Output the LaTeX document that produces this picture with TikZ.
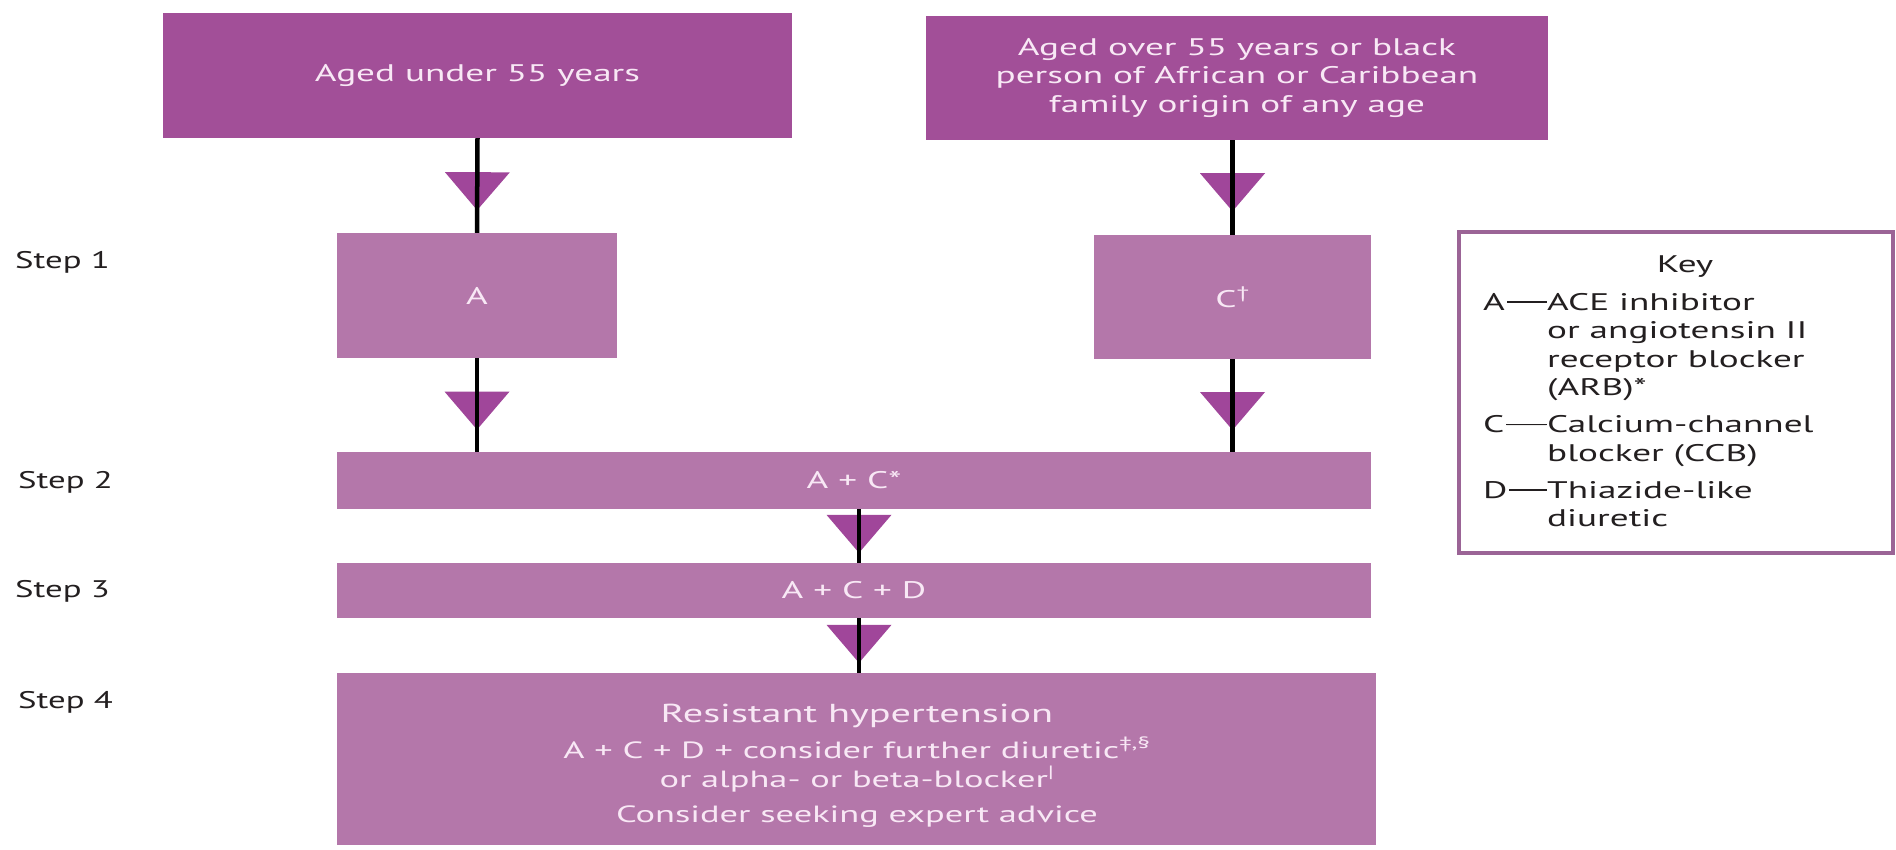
\documentclass[tikz,border=0pt]{standalone}
\usepackage{fontspec}
\setmainfont{PT Sans}[FakeStretch=1.55]
\newfontfamily\labelfont{PT Sans}[FakeStretch=1.45]
\usetikzlibrary{decorations.markings}
\definecolor{boxdark}{HTML}{A24F98}
\definecolor{boxlight}{HTML}{B477AA}
\definecolor{tricol}{HTML}{A0469A}
\definecolor{keyline}{HTML}{9B6496}
\definecolor{intext}{HTML}{F8E8F5}
\definecolor{outtext}{HTML}{231F20}
\newcommand\keylead[1]{\makebox[64pt][l]{#1\kern1.5pt\leaders\hbox{\rule[7.2pt]{0.5pt}{1.6pt}}\hfill\kern1pt}}
\tikzset{
  topbox/.style={rectangle, fill=boxdark, inner sep=0pt, text=intext, align=center,
    font=\fontsize{24}{28.5}\selectfont},
  stepbox/.style={rectangle, fill=boxlight, inner sep=0pt, text=intext, align=center,
    font=\fontsize{24}{28.5}\selectfont},
  steplabel/.style={anchor=west, inner sep=0pt, text=outtext, font=\labelfont\fontsize{24}{28}\selectfont},
  s4line/.style={anchor=base, inner sep=0pt, text=intext, font=\fontsize{23.5}{28}\selectfont},
  keytext/.style={inner sep=0pt, text=outtext, font=\fontsize{24}{28.5}\selectfont},
  flow/.style={line width=4.5pt, draw=black,
    preaction={decorate, decoration={markings,
      mark=at position #1 with {\fill[tricol] (-19pt,-32.5pt) -- (-19pt,32.5pt) -- (19pt,0pt) -- cycle;}}}}
}
\begin{document}
\begin{tikzpicture}[x=1pt,y=-1pt]
\useasboundingbox (0,0) rectangle (1896,849);
% top boxes
\node[topbox, minimum width=629pt, minimum height=125pt] (b1) at (477.5,75.5) {Aged under 55 years};
\node[topbox, minimum width=622pt, minimum height=124pt] (b2) at (1237,78)
  {Aged over 55 years or black\\person of African or Caribbean\\family origin of any age};
% step 1 boxes
\node[stepbox, minimum width=280pt, minimum height=125pt] (bA) at (477,295.5) {A};
\node[stepbox, minimum width=277pt, minimum height=124pt] (bC) at (1232.5,297) {C\textsuperscript{†}};
% step 2-4 boxes
\node[stepbox, minimum width=1034pt, minimum height=57pt] (s2) at (854,480.5) {A + C*};
\node[stepbox, minimum width=1034pt, minimum height=55pt] (s3) at (854,590.5) {A + C + D};
\node[stepbox, minimum width=1039pt, minimum height=172pt] (s4) at (856.5,759) {};
\node[s4line, font=\fontsize{26}{30}\selectfont] (s4a) at (857,722) {Resistant hypertension};
\node[s4line] (s4b) at (857,758) {A + C + D + consider further diuretic\textsuperscript{‡,§}};
\node[s4line] (s4c) at (857,787) {or alpha- or beta-blocker\textsuperscript{|}};
\node[s4line] (s4d) at (857,822) {Consider seeking expert advice};
% step labels
\node[steplabel] (st1) at (15,262) {Step 1};
\node[steplabel] (st2) at (18,482) {Step 2};
\node[steplabel] (st3) at (15,591) {Step 3};
\node[steplabel] (st4) at (18,702) {Step 4};
% key
\node[rectangle, draw=keyline, line width=4pt, minimum width=434pt, minimum height=321pt] (key) at (1676,392.5) {};
\node[keytext] (keyt) at (1685,267) {Key};
\node[keytext, anchor=base west] (keyl) at (1483,310)
  {\begin{tabular}[t]{@{}l@{}l@{}}
   \keylead{A}&ACE inhibitor\\
     &or angiotensin II\\
     &receptor blocker\\
     &(ARB)*\\[8.5pt]
   \keylead{C}&Calcium-channel\\
     &blocker (CCB)\\[8.5pt]
   \keylead{D}&Thiazide-like\\
     &diuretic
   \end{tabular}};
% connectors
\draw[flow=0.56] (b1.south) -- (bA.north);
\draw[flow=0.56] (bA.south) -- (bA.south |- s2.north);
\draw[flow=0.55] (bC.north |- b2.south) -- (bC.north);
\draw[flow=0.56] (bC.south) -- (bC.south |- s2.north);
\draw[flow=0.46] ([xshift=5pt]s2.south) -- ([xshift=5pt]s3.north);
\draw[flow=0.47] ([xshift=5pt]s3.south) -- ([xshift=5pt]s3.south |- s4.north);
\end{tikzpicture}
\end{document}
